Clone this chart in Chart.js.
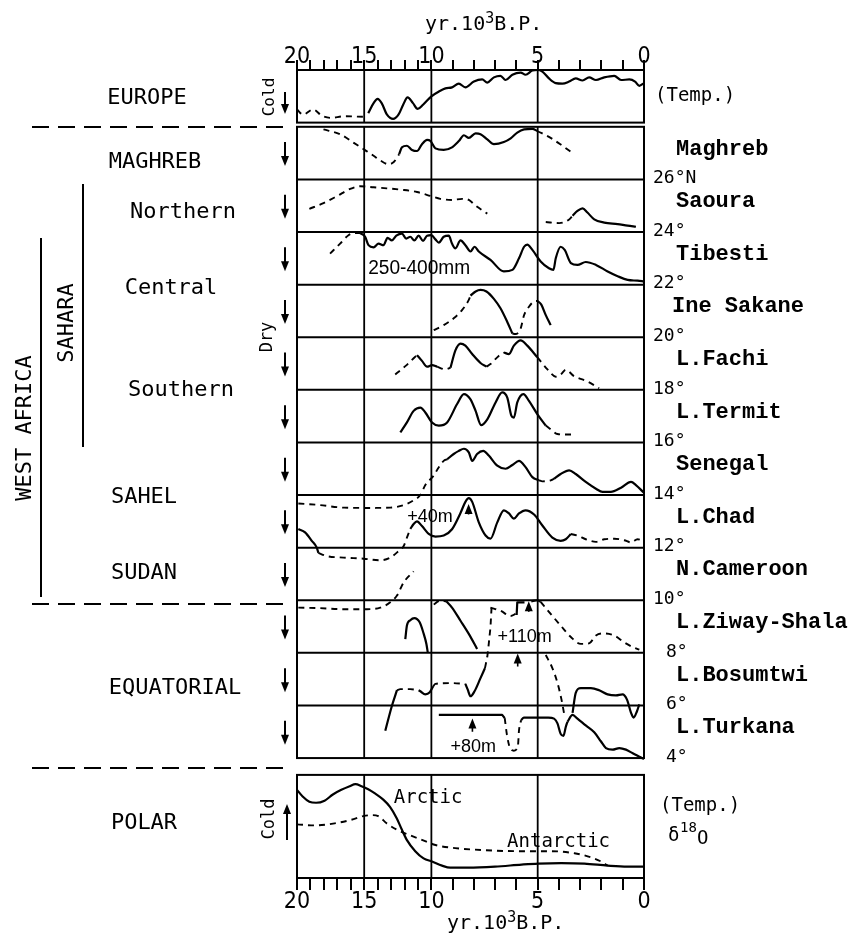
<!DOCTYPE html>
<html>
<head>
<meta charset="utf-8">
<script src="https://cdn.jsdelivr.net/npm/chart.js@4.4.1/dist/chart.umd.min.js"></script>
<style>
  html, body { margin: 0; padding: 0; background: #fff; }
  #wrap { width: 855px; height: 937px; }
</style>
</head>
<body>
<div id="wrap"><canvas id="paleoChart" width="855" height="937"></canvas></div>
<script>
// ---- data: [age ka BP, level within panel (0 = bottom, 1 = top)] ----
const tickAges = [20, 15, 10, 5, 0];

const europeDash = [[20,0.25],[19.55,0.15],[18.8,0.25],[18.15,0.13],[17.5,0.09],[16.5,0.12],[15,0.11]];
const europeSolid = [[14.7,0.18],[14.3,0.37],[14.0,0.45],[13.7,0.37],[13.3,0.15],[12.85,0.07],[12.45,0.15],[12.1,0.34],[11.77,0.48],[11.37,0.37],[11.02,0.26],[10.62,0.34],[10.0,0.5],[9.65,0.59],[9.34,0.65],[9.03,0.67],[8.71,0.74],[8.4,0.67],[8.0,0.78],[7.61,0.82],[7.37,0.76],[7.06,0.86],[6.75,0.89],[6.51,0.81],[6.19,0.91],[5.8,0.95],[5.57,0.91],[5.25,0.99],[5.02,1.0],[4.78,0.97],[4.47,0.84],[4.15,0.75],[3.84,0.74],[3.52,0.78],[3.21,0.84],[2.89,0.8],[2.58,0.86],[2.26,0.81],[1.87,0.86],[1.4,0.89],[1.08,0.81],[0.69,0.82],[0.42,0.78],[0.22,0.7],[0,0.75]];

const maghrebDash1 = [[18.03,0.95],[16.8,0.86],[15.8,0.7],[15.05,0.575],[14.3,0.45],[13.8,0.36],[13.2,0.29],[12.8,0.33],[12.4,0.48]];
const maghrebSolid = [[12.4,0.48],[12.19,0.61],[11.82,0.64],[11.44,0.56],[11.07,0.54],[10.7,0.67],[10.32,0.75],[10.07,0.73],[9.81,0.59],[9.42,0.56],[9.03,0.61],[8.71,0.73],[8.47,0.84],[8.24,0.79],[7.92,0.875],[7.69,0.86],[7.37,0.76],[7.06,0.67],[6.59,0.71],[6.27,0.78],[5.96,0.89],[5.64,0.95],[5.25,0.96],[5.02,0.92]];
const maghrebDash2 = [[5.02,0.92],[4.39,0.79],[3.84,0.64],[3.29,0.48]];

const saouraDash1 = [[19.08,0.44],[18.03,0.55],[17.04,0.68],[16.04,0.82],[15.3,0.87],[14.3,0.85],[13.31,0.83],[12.06,0.8],[11.07,0.76],[10.0,0.68],[9.58,0.63],[9.03,0.61],[8.55,0.63],[8.24,0.61],[7.92,0.5],[7.37,0.35]];
const saouraDash2 = [[4.62,0.19],[3.99,0.17],[3.52,0.24],[3.36,0.31]];
const saouraSolid = [[3.36,0.31],[3.13,0.4],[2.89,0.45],[2.66,0.37],[2.34,0.24],[1.87,0.18],[1.24,0.15],[0.77,0.12],[0.38,0.1]];

const tibestiDash = [[17.54,0.59],[16.79,0.78],[16.17,0.94],[15.67,0.98],[15.3,0.98]];
const tibestiSolid = [[15.3,0.98],[14.93,0.91],[14.68,0.75],[14.3,0.71],[13.93,0.78],[13.56,0.75],[13.26,0.89],[12.94,0.84],[12.61,0.93],[12.19,0.97],[11.87,0.875],[11.57,0.91],[11.27,0.84],[10.95,0.93],[10.62,0.83],[10.32,0.93],[10.0,0.94],[9.81,0.86],[9.65,0.8],[9.42,0.91],[9.18,0.93],[9.03,0.78],[8.87,0.69],[8.63,0.84],[8.4,0.75],[8.16,0.63],[7.97,0.72],[7.77,0.63],[7.22,0.47],[6.59,0.25],[6.19,0.28],[5.88,0.5],[5.64,0.72],[5.49,0.76],[5.25,0.66],[4.86,0.44],[4.47,0.31],[4.26,0.28],[4.15,0.5],[3.92,0.72],[3.73,0.66],[3.44,0.41],[3.13,0.375],[2.74,0.43],[2.26,0.375],[1.71,0.25],[1.24,0.16],[0.77,0.09],[0.3,0.075],[0,0.06]];

const ineSakaneDash1 = [[9.89,0.135],[9.42,0.23],[8.95,0.36],[8.55,0.52],[8.24,0.71],[8.16,0.79]];
const ineSakaneSolid1 = [[8.16,0.79],[7.92,0.87],[7.69,0.9],[7.41,0.87],[7.06,0.73],[6.75,0.55],[6.43,0.29],[6.19,0.07]];
const ineSakaneDash2 = [[6.19,0.07],[6.05,0.06],[5.8,0.17],[5.64,0.42],[5.41,0.58],[5.17,0.68],[5.02,0.69]];
const ineSakaneSolid2 = [[5.02,0.69],[4.83,0.62],[4.62,0.42],[4.39,0.23]];

const fachiDash1 = [[12.69,0.29],[11.94,0.45],[11.32,0.6],[11.07,0.66]];
const fachiSolid1 = [[11.07,0.66],[10.7,0.55],[10.32,0.44],[9.97,0.47],[9.73,0.44]];
const fachiDash2 = [[9.73,0.44],[9.34,0.39],[9.1,0.42]];
const fachiSolid2 = [[9.1,0.42],[8.87,0.75],[8.63,0.88],[8.4,0.84],[8.08,0.68],[7.69,0.51],[7.41,0.44]];
const fachiDash3 = [[7.41,0.44],[7.22,0.49],[6.82,0.65],[6.59,0.71]];
const fachiSolid3 = [[6.59,0.71],[6.35,0.68],[6.12,0.84],[5.8,0.94],[5.49,0.84],[5.02,0.62]];
const fachiDash4 = [[5.02,0.62],[4.54,0.39],[4.15,0.25],[3.92,0.29],[3.68,0.38],[3.29,0.26],[2.66,0.16],[2.11,0.03]];

const termitSolid = [[12.31,0.19],[11.82,0.38],[11.32,0.6],[10.82,0.66],[10.45,0.57],[9.97,0.38],[9.65,0.32],[9.26,0.38],[8.79,0.73],[8.47,0.92],[8.16,0.82],[7.92,0.6],[7.66,0.33],[7.37,0.44],[6.98,0.76],[6.67,0.95],[6.43,0.85],[6.24,0.51],[6.12,0.47],[5.96,0.76],[5.67,0.92],[5.41,0.79],[5.02,0.54],[4.62,0.32]];
const termitDash = [[4.62,0.32],[4.39,0.25],[4.07,0.16],[3.76,0.15],[3.29,0.15]];

const senegalSolid1 = [[9.26,0.68],[8.95,0.78],[8.71,0.84],[8.47,0.88],[8.24,0.81],[8.08,0.65],[7.85,0.78],[7.56,0.84],[7.3,0.75],[6.9,0.56],[6.51,0.5],[6.19,0.57],[5.88,0.65],[5.57,0.53],[5.25,0.34],[4.94,0.28]];
const senegalDash = [[4.94,0.28],[4.78,0.26],[4.39,0.28],[4.23,0.31]];
const senegalSolid2 = [[4.23,0.31],[3.92,0.4],[3.52,0.47],[3.21,0.4],[2.74,0.25],[2.26,0.12],[1.95,0.06],[1.56,0.06],[1.08,0.14],[0.61,0.25],[0.38,0.19],[0.02,0.05]];

// high dashed stand runs up into the Senegal panel
const chadDashHigh = [[19.9,0.84],[18.3,0.81],[16.5,0.76],[14.5,0.755],[13.06,0.76],[12.06,0.81],[11.32,0.9],[10.82,1.0],[10.45,1.19],[9.89,1.37],[9.65,1.53],[9.42,1.65],[9.26,1.68]];
const chadSolid1 = [[19.9,0.355],[19.4,0.29],[18.9,0.13],[18.53,0.0],[18.41,-0.1]];
const chadDashLow = [[18.41,-0.1],[17.79,-0.16],[16.54,-0.19],[15.05,-0.21],[13.8,-0.24],[13.06,-0.19],[12.44,-0.065],[12.06,0.03],[11.82,0.19],[11.57,0.355]];
const chadSolid2 = [[11.57,0.355],[11.32,0.45],[11.07,0.5],[10.7,0.41],[10.2,0.26],[9.81,0.21],[9.42,0.23],[9.03,0.35],[8.63,0.66],[8.4,0.87],[8.24,0.94],[8.08,0.87],[7.77,0.48],[7.45,0.23],[7.22,0.17],[6.9,0.48],[6.59,0.71],[6.35,0.65],[6.12,0.55],[5.88,0.65],[5.57,0.71],[5.17,0.63],[4.78,0.42],[4.31,0.19],[3.92,0.13],[3.68,0.16],[3.44,0.26]];
const chadDash2 = [[3.44,0.26],[3.13,0.23],[2.74,0.16],[2.26,0.11],[1.87,0.16],[1.4,0.17],[0.93,0.14],[0.61,0.1],[0.3,0.16],[0.06,0.13]];

// early Ziway dashed stand climbs into the N.Cameroon panel
const ziwayDash1 = [[19.9,0.86],[18.28,0.85],[16.54,0.83],[14.8,0.83],[13.8,0.86],[13.06,0.96],[12.56,1.09],[12.06,1.34],[11.32,1.55]];
const ziwaySolid1 = [[11.94,0.26],[11.82,0.52],[11.57,0.62],[11.27,0.66],[10.87,0.58],[10.57,0.36],[10.37,0.17],[10.27,0.01]];
const ziwayDash2 = [[9.89,0.92],[9.6,0.99],[9.3,0.98]];
const ziwaySolid2 = [[9.3,0.98],[9.03,0.86],[8.63,0.61],[8.24,0.36],[7.85,0.075]];
const ziwayDash3 = [[7.22,0.86],[6.75,0.8],[6.27,0.7],[6.04,0.74]];
const ziwayStep = [[5.99,0.72],[5.96,0.96],[5.62,0.96]];
const ziwaySolid3 = [[5.3,0.98],[5.02,1.0],[4.86,0.97]];
const ziwayDash4 = [[4.86,0.97],[4.39,0.74],[3.92,0.52],[3.44,0.3],[2.97,0.17],[2.58,0.18],[2.26,0.33],[1.87,0.37],[1.4,0.33],[0.93,0.2],[0.53,0.11],[0.22,0.06]];

const bosumtwiSolid1 = [[13.43,-0.48],[12.94,-0.01],[12.56,0.29]];
const bosumtwiDash1 = [[12.56,0.29],[12.31,0.31],[11.57,0.31],[10.95,0.29]];
const bosumtwiSolid2 = [[10.95,0.29],[10.82,0.27],[10.45,0.21],[10.12,0.25],[9.92,0.36]];
const bosumtwiDash2 = [[9.92,0.36],[9.81,0.41],[9.1,0.425],[8.4,0.41]];
const bosumtwiSolid3 = [[8.4,0.41],[8.29,0.3],[8.16,0.175],[7.97,0.27],[7.69,0.52],[7.48,0.71]];
const bosumtwiDash3 = [[7.48,0.71],[7.37,0.925],[7.3,1.175],[7.22,1.49],[7.17,1.86]];
const bosumtwiDash4 = [[4.62,0.96],[4.31,0.71],[4.07,0.43],[3.88,0.11],[3.76,-0.15]];
const bosumtwiSolid4 = [[3.36,-0.14],[3.21,0.24],[2.97,0.33],[2.5,0.33],[2.11,0.29],[1.71,0.21],[1.32,0.19],[1.01,0.21],[0.8,0.11],[0.61,-0.14],[0.49,-0.23],[0.33,-0.11],[0.22,0.02]];

const turkanaFlat = [[9.65,0.82],[6.67,0.82],[6.55,0.76]];
const turkanaDash = [[6.55,0.76],[6.45,0.45],[6.3,0.19],[6.12,0.14],[5.93,0.23],[5.88,0.52],[5.78,0.72]];
const turkanaSolid1 = [[5.78,0.72],[5.65,0.77],[5.49,0.77],[4.5,0.77],[4.23,0.75],[4.07,0.66],[3.92,0.46],[3.79,0.42],[3.68,0.59],[3.6,0.69]];
const turkanaSolid2 = [[3.6,0.69],[3.36,0.82],[3.13,0.75],[2.74,0.62],[2.34,0.49],[2.03,0.32],[1.79,0.19],[1.48,0.16],[1.16,0.19],[0.85,0.16],[0.53,0.09],[0.14,0.01],[0,-0.02]];

const polarArctic = [[20,0.855],[19.58,0.79],[19.08,0.74],[18.58,0.73],[17.95,0.75],[17.33,0.81],[16.7,0.855],[16.08,0.89],[15.65,0.91],[15.2,0.89],[14.7,0.86],[14.2,0.82],[13.58,0.76],[13.08,0.69],[12.58,0.58],[12.2,0.47],[11.83,0.37],[11.2,0.26],[10.58,0.19],[9.97,0.16],[9.5,0.12],[9.11,0.1],[8.26,0.1],[7.01,0.11],[5.76,0.13],[4.98,0.14],[3.89,0.145],[2.8,0.14],[1.71,0.12],[0.78,0.11],[0,0.11]];
const polarAntarctic = [[20,0.52],[18.7,0.51],[17.2,0.53],[15.95,0.565],[15.08,0.6],[14.45,0.61],[13.95,0.6],[13.33,0.53],[12.58,0.47],[11.7,0.42],[10.7,0.37],[9.81,0.32],[8.88,0.29],[7.48,0.27],[5.92,0.26],[4.36,0.26],[3.27,0.24],[2.65,0.21],[2.02,0.16],[1.71,0.12]];

const stationNames = ['Maghreb','Saoura','Tibesti','Ine Sakane','L.Fachi','L.Termit','Senegal','L.Chad','N.Cameroon','L.Ziway-Shala','L.Bosumtwi','L.Turkana'];
const latitudeLabels = ['26°N','24°','22°','20°','18°','16°','14°','12°','10°','8°','6°','4°'];
const regionNames = ['EUROPE','MAGHREB','Northern','Central','Southern','SAHEL','SUDAN','EQUATORIAL','POLAR'];

// ---- layout ----
const OLD_SCALE = 0.632; // 10-20 ka drawn compressed
function ageToU(a) { return a <= 10 ? a : 10 + (a - 10) * OLD_SCALE; }
function uToAge(u) { return u <= 10 ? u : 10 + (u - 10) / OLD_SCALE; }
const U_MAX = ageToU(20);

const POLAR_TOP = 1.96, AF_BOT = 2.28, AF_TOP = 14.28, EU_BOT = 14.36, EU_TOP = 15.36;
const st = i => AF_TOP - i - 1; // bottom of station panel i

const FONT_MONO = "'DejaVu Sans Mono', monospace";
const FONT_COUR = "'Liberation Mono', 'Courier New', monospace";
const FONT_NUM = "'Liberation Sans Narrow', 'DejaVu Sans Condensed', sans-serif";

function seg(pts, base, dashed, h, straight) {
    h = h || 1;
    return {
        data: pts.map(p => ({ x: ageToU(p[0]), y: base + p[1] * h })),
        borderColor: '#000',
        borderWidth: dashed ? 1.9 : 2.2,
        borderDash: dashed ? [6, 5] : [],
        cubicInterpolationMode: straight ? 'default' : 'monotone',
        tension: 0,
        pointRadius: 0,
        fill: false,
        borderJoinStyle: 'round',
        xAxisID: 'x',
        yAxisID: 'y'
    };
}

const datasets = [
    seg(europeDash, EU_BOT, true), seg(europeSolid, EU_BOT, false),
    seg(maghrebDash1, st(0), true), seg(maghrebSolid, st(0), false), seg(maghrebDash2, st(0), true),
    seg(saouraDash1, st(1), true), seg(saouraDash2, st(1), true), seg(saouraSolid, st(1), false),
    seg(tibestiDash, st(2), true), seg(tibestiSolid, st(2), false),
    seg(ineSakaneDash1, st(3), true), seg(ineSakaneSolid1, st(3), false), seg(ineSakaneDash2, st(3), true), seg(ineSakaneSolid2, st(3), false),
    seg(fachiDash1, st(4), true), seg(fachiSolid1, st(4), false), seg(fachiDash2, st(4), true), seg(fachiSolid2, st(4), false),
    seg(fachiDash3, st(4), true), seg(fachiSolid3, st(4), false), seg(fachiDash4, st(4), true),
    seg(termitSolid, st(5), false), seg(termitDash, st(5), true),
    seg(senegalSolid1, st(6), false), seg(senegalDash, st(6), true), seg(senegalSolid2, st(6), false),
    seg(chadDashHigh, st(7), true), seg(chadSolid1, st(7), false), seg(chadDashLow, st(7), true),
    seg(chadSolid2, st(7), false), seg(chadDash2, st(7), true),
    seg(ziwayDash1, st(9), true), seg(ziwaySolid1, st(9), false), seg(ziwayDash2, st(9), true), seg(ziwaySolid2, st(9), false),
    seg(ziwayDash3, st(9), true), seg(ziwayStep, st(9), false, 1, true), seg(ziwaySolid3, st(9), false), seg(ziwayDash4, st(9), true),
    seg(bosumtwiSolid1, st(10), false), seg(bosumtwiDash1, st(10), true), seg(bosumtwiSolid2, st(10), false),
    seg(bosumtwiDash2, st(10), true), seg(bosumtwiSolid3, st(10), false), seg(bosumtwiDash3, st(10), true, 1, true),
    seg(bosumtwiDash4, st(10), true), seg(bosumtwiSolid4, st(10), false),
    seg(turkanaFlat, st(11), false, 1, true), seg(turkanaDash, st(11), true), seg(turkanaSolid1, st(11), false), seg(turkanaSolid2, st(11), false),
    seg(polarArctic, 0, false, POLAR_TOP), seg(polarAntarctic, 0, true, POLAR_TOP)
];

function arrow(ctx, x, y1, y2) {
    const d = Math.sign(y2 - y1);
    ctx.beginPath(); ctx.moveTo(x, y1); ctx.lineTo(x, y2 - d * 6); ctx.stroke();
    ctx.beginPath(); ctx.moveTo(x, y2); ctx.lineTo(x - 4, y2 - d * 10); ctx.lineTo(x + 4, y2 - d * 10); ctx.closePath(); ctx.fill();
}
function vtext(ctx, s, x, y, font) {
    ctx.save(); ctx.translate(x, y); ctx.rotate(-Math.PI / 2);
    ctx.font = font; ctx.textAlign = 'center'; ctx.textBaseline = 'middle';
    ctx.fillText(s, 0, 0); ctx.restore();
}
// "yr.10³B.P." with a raised 3
function axisTitle(ctx, x, base) {
    ctx.textAlign = 'left'; ctx.textBaseline = 'alphabetic';
    ctx.font = '20px ' + FONT_MONO;
    ctx.fillText('yr.10', x, base);
    let w = ctx.measureText('yr.10').width;
    ctx.font = '15px ' + FONT_MONO;
    ctx.fillText('3', x + w, base - 7);
    w += ctx.measureText('3').width;
    ctx.font = '20px ' + FONT_MONO;
    ctx.fillText('B.P.', x + w, base);
}

const panelPlugin = {
    id: 'panels',
    beforeDatasetsDraw(chart) {
        const { ctx, chartArea: a, scales: { x, y } } = chart;
        ctx.save();
        ctx.strokeStyle = '#000';
        ctx.lineWidth = 2;
        [[EU_BOT, EU_TOP], [AF_BOT, AF_TOP], [0, POLAR_TOP]].forEach(b => {
            const t = y.getPixelForValue(b[1]), bt = y.getPixelForValue(b[0]);
            ctx.strokeRect(a.left, t, a.right - a.left, bt - t);
            ctx.lineWidth = 1.8;
            [15, 10, 5].forEach(g => {
                const px = x.getPixelForValue(ageToU(g));
                ctx.beginPath(); ctx.moveTo(px, t); ctx.lineTo(px, bt); ctx.stroke();
            });
            ctx.lineWidth = 2;
        });
        for (let i = 1; i < 12; i++) {
            const py = y.getPixelForValue(AF_TOP - i);
            ctx.beginPath(); ctx.moveTo(a.left, py); ctx.lineTo(a.right, py); ctx.stroke();
        }
        ctx.restore();
    },
    afterDatasetsDraw(chart) {
        const { ctx, scales: { x, y } } = chart;
        const X = age => x.getPixelForValue(ageToU(age));
        ctx.save();
        ctx.fillStyle = '#000';
        ctx.strokeStyle = '#000';

        // left region names
        const regionPos = [[147, 98], [155, 162], [183, 212], [171, 288], [181, 390], [144, 497], [144, 573], [175, 688], [144, 823]];
        ctx.font = '22px ' + FONT_MONO;
        ctx.textAlign = 'center'; ctx.textBaseline = 'middle';
        regionNames.forEach((n, i) => ctx.fillText(n, regionPos[i][0], regionPos[i][1]));
        vtext(ctx, 'SAHARA', 67, 323, '22px ' + FONT_MONO);
        vtext(ctx, 'WEST AFRICA', 25, 428, '22px ' + FONT_MONO);
        vtext(ctx, 'Cold', 270, 97, '16px ' + FONT_MONO);
        vtext(ctx, 'Dry', 268, 337, '17px ' + FONT_MONO);
        vtext(ctx, 'Cold', 270, 819, '17px ' + FONT_MONO);

        ctx.lineWidth = 2;
        ctx.beginPath(); ctx.moveTo(83, 184); ctx.lineTo(83, 447); ctx.stroke();
        ctx.beginPath(); ctx.moveTo(41, 238); ctx.lineTo(41, 597); ctx.stroke();
        ctx.setLineDash([17, 9]);
        [127, 604, 768].forEach(py => {
            ctx.beginPath(); ctx.moveTo(32, py); ctx.lineTo(288, py); ctx.stroke();
        });
        ctx.setLineDash([]);

        // direction arrows
        ctx.lineWidth = 2;
        arrow(ctx, 285, 92, 114);
        for (let i = 0; i < 12; i++) {
            const cy = y.getPixelForValue(st(i) + 0.5);
            arrow(ctx, 285, cy - 11, cy + 13);
        }
        arrow(ctx, 287, 840, 804);

        // right side: stations and latitudes
        ctx.textAlign = 'left'; ctx.textBaseline = 'middle';
        stationNames.forEach((n, i) => {
            ctx.font = 'bold 22px ' + FONT_COUR;
            ctx.fillText(n, i === 3 ? 672 : 676, y.getPixelForValue(st(i) + 0.5) - 4);
            ctx.font = '18px ' + FONT_MONO;
            const lx = i < 9 ? 653 : 666;
            ctx.fillText(latitudeLabels[i], lx, y.getPixelForValue(st(i)) - 1);
        });
        ctx.font = '19px ' + FONT_MONO;
        ctx.fillText('(Temp.)', 655, 96);
        ctx.fillText('(Temp.)', 660, 806);
        ctx.fillText('δ', 668, 836);
        ctx.font = '14px ' + FONT_MONO;
        ctx.fillText('18', 680, 828);
        ctx.font = '19px ' + FONT_MONO;
        ctx.fillText('O', 697, 839);

        // in-panel notes
        ctx.textBaseline = 'alphabetic';
        ctx.font = '20px Liberation Sans, sans-serif';
        ctx.fillText('250-400mm', X(14.7), y.getPixelForValue(st(2) + 0.2), 102);
        ctx.font = '18px Liberation Sans, sans-serif';
        ctx.fillText('+40m', X(11.8), y.getPixelForValue(st(7) + 0.49));
        ctx.fillText('+110m', X(6.89), y.getPixelForValue(st(9) + 0.21));
        ctx.fillText('+80m', X(9.1), y.getPixelForValue(st(11) + 0.11));
        ctx.font = '19px ' + FONT_MONO;
        ctx.fillText('Arctic', X(12.8), y.getPixelForValue(0.73 * POLAR_TOP));
        ctx.fillText('Antarctic', X(6.44), y.getPixelForValue(0.3 * POLAR_TOP));

        ctx.lineWidth = 1.6;
        arrow(ctx, X(8.25), y.getPixelForValue(st(7) + 0.63), y.getPixelForValue(st(7) + 0.83));
        arrow(ctx, X(5.42), y.getPixelForValue(st(9) + 0.78), y.getPixelForValue(st(9) + 0.98));
        arrow(ctx, X(5.94), y.getPixelForValue(st(10) + 0.74), y.getPixelForValue(st(10) + 0.99));
        arrow(ctx, X(8.07), y.getPixelForValue(st(11) + 0.5), y.getPixelForValue(st(11) + 0.75));

        axisTitle(ctx, 425, 30);
        axisTitle(ctx, 447, 929);
        ctx.restore();
    }
};

function xAxis(pos, height, tickLen, pad) {
    return {
        type: 'linear',
        position: pos,
        reverse: true,
        min: 0,
        max: U_MAX,
        afterBuildTicks: s => {
            s.ticks = [];
            for (let a = 0; a <= 20; a++) s.ticks.push({ value: ageToU(a) });
        },
        afterFit: s => { s.height = height; },
        border: { display: false },
        grid: { drawOnChartArea: false, drawTicks: true, tickLength: tickLen, color: '#000', lineWidth: 2 },
        ticks: {
            autoSkip: false,
            maxRotation: 0,
            padding: pad,
            color: '#000',
            font: { family: FONT_NUM, size: 23 },
            callback: v => {
                const age = Math.round(uToAge(v));
                return tickAges.includes(age) ? String(age) : '';
            }
        }
    };
}

new Chart(document.getElementById('paleoChart'), {
    type: 'line',
    data: { datasets: datasets },
    options: {
        responsive: false,
        animation: false,
        layout: { padding: { left: 297, right: 211, top: 0, bottom: 0 } },
        plugins: { legend: { display: false }, tooltip: { enabled: false } },
        scales: {
            x: xAxis('bottom', 59, 12, -2),
            xTop: xAxis('top', 70, 10, -11),
            y: { display: false, min: 0, max: EU_TOP }
        }
    },
    plugins: [panelPlugin]
});
</script>
</body>
</html>
